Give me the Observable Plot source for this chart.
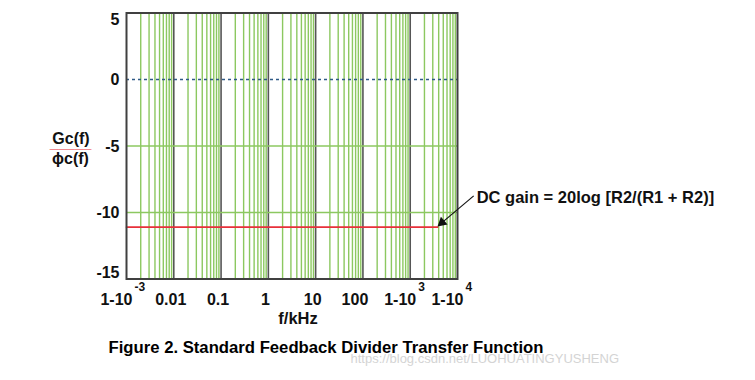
<!DOCTYPE html>
<html><head><meta charset="utf-8">
<script src="https://cdn.jsdelivr.net/npm/d3@7"></script>
<script src="https://cdn.jsdelivr.net/npm/@observablehq/plot@0.6"></script>
<style>body{margin:0;background:#fff}</style>
</head><body><div id="chart"></div>
<script>
// Data
const decades = [0.001, 0.01, 0.1, 1, 10, 100, 1000];
const minorSteps = [2, 3, 4, 5, 6, 7, 8, 9];
const decadeLines = [0.01, 0.1, 1, 10, 100, 1000];
const gainGrid = [-5, -10];
const gainZero = [0];
const gainTickValues = [5, 0, -5, -10, -15];
const gainTickLabels = ["5", "0", "-5", "-10", "-15"];
const xTickValues = [0.001, 0.01, 0.1, 1, 10, 100, 1000, 10000];
const xTickBase = ["1-10", "0.01", "0.1", "1", "10", "100", "1-10", "1-10"];
const xTickExp = ["-3", "", "", "", "", "", "3", "4"];
const dcGainFreq = [0.001, 3800];
const dcGainValue = [-11.1, -11.1];
const annotationText = ["DC gain = 20log [R2/(R1 + R2)]"];
const annotationAt = [{f: 22000, g: -8.75}];
const arrowHead = [{f: 4700, g: -10.76}];
const titleText = ["Figure 2. Standard Feedback Divider Transfer Function"];
const watermark = ["https://blog.csdn.net/LUOHUATINGYUSHENG"];

const minorLines = decades.flatMap(d => minorSteps.map(m => m * d));
const dcGain = dcGainFreq.map((f, i) => ({f, g: dcGainValue[i]}));
const FONT = "Liberation Sans, Arial, Helvetica, sans-serif";
const GREEN = "#8cc860";
const idx = a => a.map((_, i) => i);
const expIdx = idx(xTickValues).filter(i => xTickExp[i] !== "");
const plainIdx = idx(xTickValues).filter(i => xTickExp[i] === "" && xTickBase[i] !== "100");
const hundredIdx = idx(xTickValues).filter(i => xTickBase[i] === "100");
const yMid = idx(gainTickValues).filter(i => i > 0 && i < gainTickValues.length - 1);
const TXT = {fontWeight: "bold", fill: "#111"};

const plot = Plot.plot({
  width: 755, height: 380,
  marginLeft: 126, marginRight: 298, marginTop: 12.5, marginBottom: 101.5,
  style: {fontFamily: FONT, background: "#fff", overflow: "visible"},
  x: {type: "log", domain: [1e-3, 1e4], axis: null},
  y: {domain: [-15, 5], axis: null},
  marks: [
    Plot.ruleX(minorLines, {stroke: GREEN, strokeWidth: 1.4}),
    Plot.ruleX(decadeLines, {stroke: "#555", strokeWidth: 1.6}),
    Plot.ruleY(gainGrid, {stroke: GREEN, strokeWidth: 1.4}),
    Plot.ruleY(gainZero, {stroke: "#2f5a86", strokeWidth: 1.3, strokeDasharray: "3,3"}),
    Plot.line(dcGain, {x: "f", y: "g", stroke: "#e8303a", strokeWidth: 1.6}),
    Plot.frame({stroke: "#404040", strokeWidth: 2}),
    // y tick labels
    Plot.text(yMid, {y: i => gainTickValues[i], text: i => gainTickLabels[i], frameAnchor: "left", textAnchor: "end", dx: -7, dy: 0.5, fontSize: 16, ...TXT}),
    Plot.text([0], {y: i => gainTickValues[i], text: i => gainTickLabels[i], frameAnchor: "left", textAnchor: "end", dx: -7, dy: 6.5, fontSize: 16, ...TXT}),
    Plot.text([gainTickValues.length - 1], {y: i => gainTickValues[i], text: i => gainTickLabels[i], frameAnchor: "left", textAnchor: "end", dx: -7, dy: -6.5, fontSize: 16, ...TXT}),
    // x tick labels
    Plot.text(plainIdx, {x: i => xTickValues[i], text: i => xTickBase[i], frameAnchor: "bottom", textAnchor: "middle", dx: -3, dy: 25.5, fontSize: 16, ...TXT}),
    Plot.text(hundredIdx, {x: i => xTickValues[i], text: i => xTickBase[i], frameAnchor: "bottom", textAnchor: "middle", dx: -8, dy: 25.5, fontSize: 16, ...TXT}),
    Plot.text(expIdx, {x: i => xTickValues[i], text: i => xTickBase[i], frameAnchor: "bottom", textAnchor: "end", dx: 6, dy: 25.5, fontSize: 16, ...TXT}),
    Plot.text(expIdx, {x: i => xTickValues[i], text: i => xTickExp[i], frameAnchor: "bottom", textAnchor: "start", dx: 8, dy: 12, fontSize: 12, ...TXT}),
    // axis labels
    Plot.text(["f/kHz"], {frameAnchor: "bottom", textAnchor: "middle", dx: 6, dy: 45, fontSize: 16.5, ...TXT}),
    Plot.text(["Gc(f)"], {frameAnchor: "left", textAnchor: "middle", dx: -55.5, dy: -7.5, fontSize: 16, ...TXT}),
    Plot.text(["_____"], {frameAnchor: "left", textAnchor: "middle", dx: -56, dy: -3, fontSize: 15, fontWeight: "bold", fill: "#e8303a"}),
    Plot.text(["\u03d5c(f)"], {frameAnchor: "left", textAnchor: "middle", dx: -56, dy: 13, fontSize: 16, ...TXT}),
    // annotation
    Plot.link(annotationAt, {x1: "f", y1: "g", x2: () => arrowHead[0].f, y2: () => arrowHead[0].g, stroke: "#111", strokeWidth: 1.2}),
    Plot.dot(arrowHead, {x: "f", y: "g", symbol: "triangle", r: 3.8, fill: "#111", stroke: "none", rotate: 229.3}),
    Plot.text(annotationText, {x: () => annotationAt[0].f, y: () => annotationAt[0].g, textAnchor: "start", dx: 3, dy: 1.5, fontSize: 16.5, ...TXT}),
    // title and watermark
    Plot.text(titleText, {frameAnchor: "bottom-left", textAnchor: "start", dx: -18, dy: 73.5, fontSize: 16.7, fontWeight: "bold", fill: "#000"}),
    Plot.text(watermark, {frameAnchor: "bottom-left", textAnchor: "start", dx: 224, dy: 84, fontSize: 13, fill: "#d4d4d4"})
  ]
});
document.getElementById("chart").appendChild(plot);
</script>
</body></html>
